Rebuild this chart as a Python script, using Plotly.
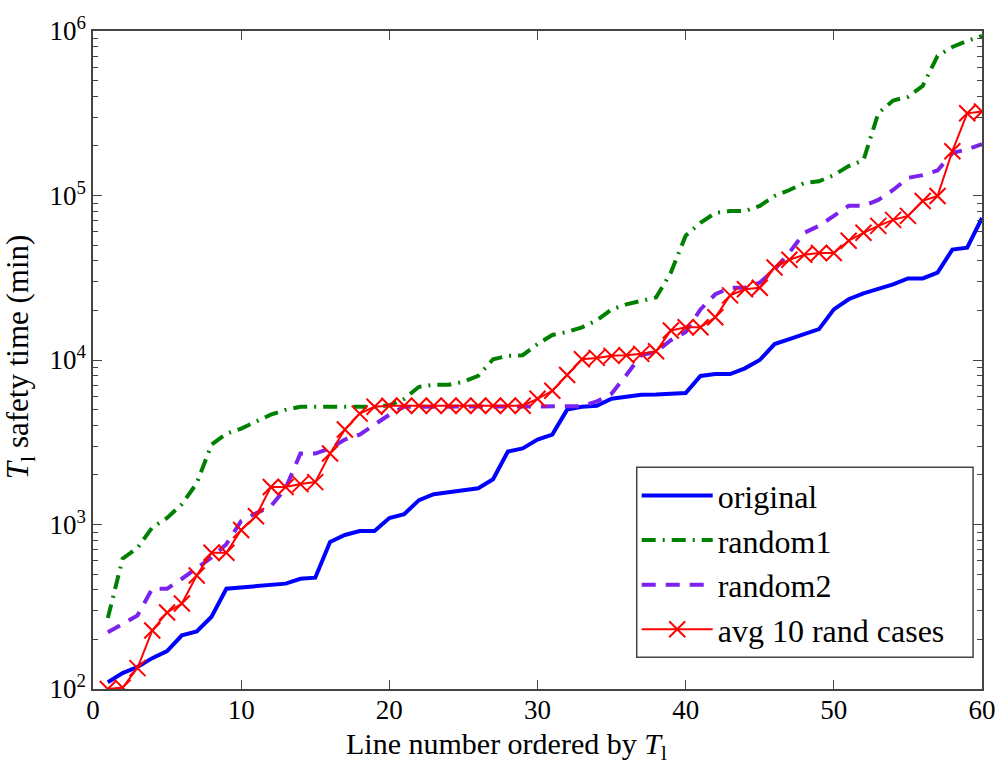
import plotly.graph_objects as go

line_no = list(range(1, 61))

original = [110, 125, 136, 154, 170, 212, 224, 275, 407, 414,
            420, 430, 437, 468, 475, 783, 864, 912, 912, 1095,
            1156, 1406, 1528, 1570, 1614, 1660, 1883, 2780, 2900, 3280,
            3520, 4990, 5200, 5270, 5810, 5970, 6140, 6170, 6240, 6300,
            8000, 8220, 8220, 8900, 10000, 12500, 13400, 14300, 15400, 20300,
            23400, 25400, 26900, 28800, 31300, 31300, 34000, 46900, 48200, 73100]

random1 = [270, 620, 720, 960, 1096, 1330, 1780, 3060, 3570, 3830,
           4220, 4650, 4980, 5200, 5200, 5200, 5200, 5200, 5200, 5300,
           5800, 6870, 7070, 7070, 7370, 8000, 10100, 10600, 10700, 12500,
           14200, 14800, 15800, 17400, 20300, 21800, 23000, 24000, 34000, 57000,
           68300, 78300, 80500, 80500, 86400, 99300, 108000, 119000, 122000, 133000,
           151000, 164000, 316000, 378000, 398000, 464000, 706000, 800000, 871000, 933000]

random2 = [221, 250, 280, 407, 407, 468, 546, 630, 760, 1050,
           1170, 1290, 1660, 2700, 2700, 2900, 3280, 3520, 4050, 4650,
           5200, 5200, 5200, 5200, 5200, 5200, 5200, 5200, 5200, 5230,
           5230, 5230, 5230, 5600, 6240, 8100, 10700, 11200, 13200, 14800,
           20300, 25100, 27500, 27500, 29500, 35500, 45000, 59300, 65400, 75200,
           86500, 86500, 94000, 108000, 128000, 133000, 142000, 181000, 191000, 205000]

avg_rand = [100, 102, 134, 227, 292, 331, 490, 673, 673, 927,
            1123, 1690, 1690, 1760, 1810, 2700, 3780, 4720, 5200, 5270,
            5270, 5270, 5270, 5270, 5270, 5270, 5270, 5270, 5270, 5810,
            6500, 8100, 10100, 10300, 10600, 10700, 10900, 11300, 15100, 15800,
            15800, 18200, 24700, 26900, 27500, 36500, 40700, 43600, 44700, 44700,
            53100, 59300, 65400, 71100, 75200, 92700, 99300, 186000, 316000, 324000]

x_ticks = [0, 10, 20, 30, 40, 50, 60]
y_ticks = [1e2, 1e3, 1e4, 1e5, 1e6]
y_tick_text = ["10<sup>2</sup>", "10<sup>3</sup>", "10<sup>4</sup>",
               "10<sup>5</sup>", "10<sup>6</sup>"]

FONT = "Liberation Serif"
AXIS_GREY = "#444444"

fig = go.Figure()
fig.add_trace(go.Scatter(x=line_no, y=original, mode="lines", name="original",
                         line=dict(color="#0000ff", width=4)))
fig.add_trace(go.Scatter(x=line_no, y=random1, mode="lines", name="random1",
                         line=dict(color="#008000", width=4, dash="14px,7px,2px,7px")))
fig.add_trace(go.Scatter(x=line_no, y=random2, mode="lines", name="random2",
                         line=dict(color="#7b22ee", width=4, dash="14px,10px")))
fig.add_trace(go.Scatter(x=line_no, y=avg_rand, mode="lines+markers",
                         name="avg 10 rand cases",
                         line=dict(color="#ff0000", width=2),
                         marker=dict(symbol="x-thin-open", size=16,
                                     line=dict(color="#ff0000", width=2))))

axis_common = dict(
    showline=True, linecolor=AXIS_GREY, linewidth=1.5, mirror="ticks",
    ticks="inside", tickcolor=AXIS_GREY, showgrid=False, zeroline=False,
)

fig.update_xaxes(range=[0, 60], tickvals=x_ticks, ticklen=9,
                 ticklabelstandoff=-4,
                 tickfont=dict(family=FONT, size=27, color="black"),
                 **axis_common)

fig.update_yaxes(type="log", range=[2, 6], tickvals=y_ticks, ticktext=y_tick_text,
                 ticklen=9,
                 tickfont=dict(family=FONT, size=27, color="black"),
                 minor=dict(ticks="inside", ticklen=5, tickcolor=AXIS_GREY,
                            dtick="D1", showgrid=False),
                 **axis_common)

# axis titles placed as annotations
fig.add_annotation(text="Line number ordered by <i>T</i><sub>l</sub>",
                   xref="paper", yref="paper", x=0.4654, y=-0.1175,
                   xanchor="center", yanchor="bottom", showarrow=False,
                   borderpad=0,
                   font=dict(family=FONT, size=30, color="black"))
fig.add_annotation(text="<i>T</i><sub>l</sub> safety time (min)",
                   xref="paper", yref="paper", x=-0.082, y=0.5045,
                   xanchor="center", yanchor="middle", textangle=-90,
                   showarrow=False,
                   font=dict(family=FONT, size=31, color="black"))

# legend frame drawn as a box so its padding can be set freely
fig.add_shape(type="rect", xref="paper", yref="paper",
              x0=(641 - 93) / 896, x1=(980 - 93) / 896,
              y0=(689 - 657) / 662, y1=(689 - 466) / 662,
              line=dict(color=AXIS_GREY, width=1.5), fillcolor="white",
              layer="above")

fig.update_layout(
    width=1008, height=766,
    margin=dict(l=93, r=19, t=27, b=77),
    paper_bgcolor="white", plot_bgcolor="white",
    font=dict(family=FONT, color="black"),
    showlegend=True,
    legend=dict(x=0.6116, y=0.0483, xanchor="left", yanchor="bottom",
                bgcolor="rgba(0,0,0,0)", borderwidth=0,
                font=dict(family=FONT, size=32, color="black"),
                itemwidth=71),
)

fig.write_html("out.html")
